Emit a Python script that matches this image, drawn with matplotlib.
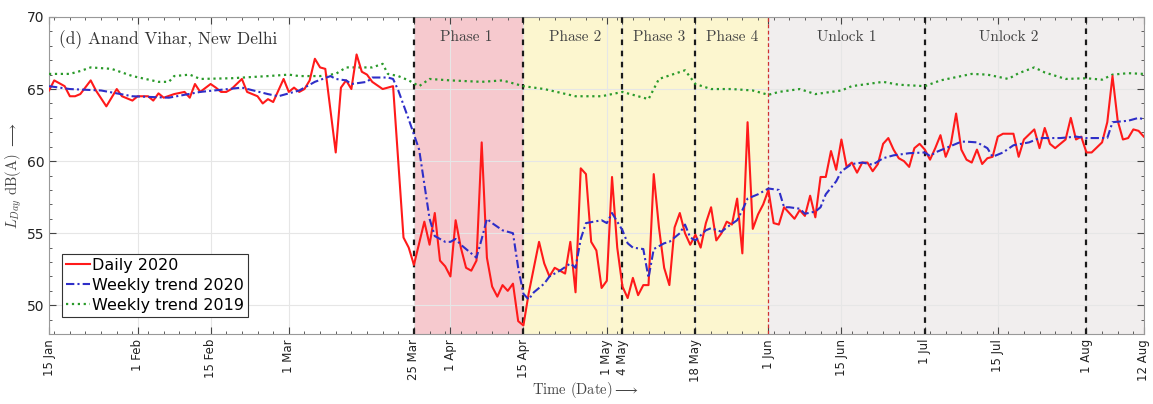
import numpy as np
import matplotlib
matplotlib.use("Agg")
import matplotlib.pyplot as plt
import matplotlib.dates as mdates
from matplotlib.ticker import MultipleLocator

plt.rcParams['mathtext.fontset'] = 'cm'
plt.rcParams['axes.unicode_minus'] = False

BASE = np.datetime64('2020-01-15')

# ---- Daily 2020 (day offset from 15 Jan, value dB(A)) ----
red_day = [0, 1, 3, 4, 5, 6, 8, 9, 11, 13, 14, 16, 17, 19, 20, 21, 22, 24, 26, 27,
           28, 29, 31, 32, 33, 34, 35, 37, 38, 40, 41, 42, 43, 45, 46, 47, 48, 49, 50, 51,
           52, 53, 55, 56, 57, 58, 59, 60, 61, 62, 64, 66, 68, 69, 70, 72, 73, 74, 75, 76,
           77, 78, 79, 80, 81, 82, 83, 84, 85, 86, 87, 88, 89, 90, 91, 92, 94, 95, 96, 97,
           99, 100, 101, 102, 103, 104, 105, 106, 107, 108, 109, 110, 111, 112, 113, 114, 115, 116, 117, 118,
           119, 120, 121, 122, 123, 124, 125, 126, 127, 128, 129, 130, 131, 132, 133, 134, 135, 136, 137, 138,
           139, 140, 141, 143, 144, 145, 146, 147, 148, 149, 150, 151, 152, 153, 154, 155, 156, 157, 158, 159,
           160, 161, 162, 163, 164, 165, 166, 167, 168, 169, 170, 171, 172, 173, 174, 175, 176, 177, 178, 179,
           180, 181, 182, 183, 185, 186, 187, 189, 190, 191, 192, 193, 194, 195, 196, 197, 198, 199, 200, 202,
           203, 204, 205, 206, 207, 208, 209, 210]
red_val = [64.9, 65.6, 65.2, 64.5, 64.5, 64.65, 65.6, 64.9, 63.8, 65.0, 64.5, 64.2, 64.5, 64.5, 64.2, 64.7, 64.4, 64.65, 64.8, 64.4,
           65.35, 64.8, 65.35, 65.1, 64.8, 64.8, 65.0, 65.7, 64.8, 64.5, 64.0, 64.3, 64.1, 65.7, 64.8, 65.1, 64.8, 65.0, 65.6, 67.1,
           66.5, 66.4, 60.6, 65.1, 65.6, 65.0, 67.4, 66.2, 66.0, 65.5, 65.0, 65.2, 54.7, 54.0, 52.8, 55.8, 54.2, 56.4, 53.1, 52.7,
           52.0, 55.9, 54.0, 52.6, 52.4, 53.1, 61.3, 53.3, 51.3, 50.6, 51.4, 51.0, 51.5, 48.9, 48.6, 50.8, 54.4, 52.9, 52.0, 52.6,
           52.2, 54.4, 50.9, 59.5, 59.1, 54.4, 53.8, 51.2, 51.7, 58.9, 54.0, 51.3, 50.5, 51.9, 50.7, 51.4, 51.4, 59.1, 55.4, 52.6,
           51.4, 55.4, 56.4, 55.0, 54.2, 54.9, 54.0, 55.7, 56.8, 54.5, 55.0, 55.8, 55.6, 57.4, 53.6, 62.7, 55.3, 56.3, 57.0, 58.0,
           55.7, 55.6, 56.8, 56.0, 56.6, 56.2, 57.6, 56.1, 58.9, 58.9, 60.7, 59.4, 61.5, 59.6, 59.9, 59.2, 59.9, 59.9, 59.3, 59.8,
           61.2, 61.6, 60.8, 60.2, 60.0, 59.6, 60.9, 61.2, 60.8, 60.1, 60.9, 61.8, 60.3, 61.2, 63.3, 60.8, 60.1, 59.9, 60.8, 59.8,
           60.2, 60.3, 61.7, 61.9, 61.9, 60.3, 61.5, 62.2, 60.9, 62.3, 61.2, 60.9, 61.2, 61.5, 63.0, 61.5, 61.7, 60.6, 60.6, 61.3,
           62.7, 65.9, 62.8, 61.5, 61.6, 62.2, 62.1, 61.7]

# ---- Weekly trend 2020 ----
blue_day = [0, 4, 10, 16, 23, 29, 37, 42, 44, 48, 51, 54, 55, 57, 58, 61, 62, 65, 66, 67,
            69, 71, 72, 73, 74, 76, 77, 78, 79, 81, 82, 83, 84, 85, 87, 89, 90, 91, 92, 93,
            95, 96, 98, 100, 101, 102, 103, 106, 107, 108, 110, 111, 112, 114, 115, 116, 118, 119, 121, 122,
            123, 124, 126, 127, 129, 130, 132, 133, 134, 136, 138, 140, 141, 142, 144, 145, 147, 148, 149, 151,
            152, 154, 156, 158, 160, 162, 165, 168, 169, 170, 172, 175, 176, 178, 180, 181, 183, 185, 188, 190,
            194, 197, 199, 203, 204, 207, 209, 210]
blue_val = [65.2, 65.0, 64.9, 64.5, 64.4, 64.8, 65.1, 64.65, 64.5, 64.9, 65.5, 65.9, 65.7, 65.6, 65.35, 65.5, 65.8, 65.8, 65.7, 64.9,
            62.9, 60.8, 58.4, 56.0, 54.8, 54.4, 54.4, 54.6, 54.2, 53.6, 53.3, 54.6, 56.0, 55.7, 55.2, 55.0, 52.6, 50.8, 50.4, 50.9,
            51.5, 52.0, 52.4, 52.9, 52.6, 54.6, 55.7, 55.9, 55.7, 56.4, 55.2, 54.3, 54.0, 53.9, 51.9, 53.9, 54.3, 54.4, 55.0, 55.6,
            54.7, 54.5, 55.2, 55.35, 55.1, 55.4, 55.9, 56.6, 57.4, 57.7, 58.1, 58.0, 56.8, 56.8, 56.7, 56.35, 56.5, 56.8, 57.7, 58.6,
            59.3, 59.8, 59.9, 59.75, 60.2, 60.4, 60.55, 60.6, 60.35, 60.6, 60.9, 61.35, 61.35, 61.3, 60.9, 60.3, 60.6, 61.1, 61.3, 61.6,
            61.6, 61.7, 61.6, 61.6, 62.7, 62.8, 63.0, 62.9]

# ---- Weekly trend 2019 ----
green_day = [0, 4, 6, 8, 12, 16, 21, 23, 24, 27, 29, 35, 42, 46, 48, 52, 55, 57, 60, 62,
             64, 65, 67, 69, 71, 73, 77, 83, 87, 91, 95, 101, 106, 110, 115, 117, 122, 124, 127, 131,
             135, 138, 140, 144, 147, 152, 154, 160, 163, 168, 171, 177, 180, 184, 186, 189, 191, 195, 199, 202,
             204, 207, 210]
green_val = [66.05, 66.05, 66.25, 66.5, 66.4, 65.9, 65.5, 65.5, 65.9, 66.0, 65.7, 65.75, 65.9, 66.0, 65.9, 65.9, 66.05, 66.5, 66.5, 66.5,
             66.75, 66.05, 65.9, 65.6, 65.2, 65.7, 65.6, 65.5, 65.6, 65.2, 65.0, 64.5, 64.5, 64.8, 64.3, 65.7, 66.3, 65.35, 65.0, 65.0,
             64.9, 64.6, 64.8, 65.0, 64.65, 64.9, 65.2, 65.5, 65.3, 65.2, 65.6, 66.05, 66.0, 65.7, 66.1, 66.5, 66.15, 65.7, 65.75, 65.65,
             66.0, 66.1, 66.05]

# ---- Periods & labels ----
period_bounds = ['2020-03-25', '2020-04-15', '2020-06-01', '2020-08-12']
period_colors = ['#F6C9CE', '#FCF6CF', '#F1EEEE']
phase_lines = ['2020-03-25', '2020-04-15', '2020-05-04', '2020-05-18', '2020-07-01', '2020-08-01']
phase_labels = ['Phase 1', 'Phase 2', 'Phase 3', 'Phase 4', 'Unlock 1', 'Unlock 2']
phase_label_dates = ['2020-04-04', '2020-04-25', '2020-05-11', '2020-05-25', '2020-06-16', '2020-07-17']

tick_dates = ['2020-01-15', '2020-02-01', '2020-02-15', '2020-03-01', '2020-03-25', '2020-04-01',
              '2020-04-15', '2020-05-01', '2020-05-04', '2020-05-18', '2020-06-01', '2020-06-15',
              '2020-07-01', '2020-07-15', '2020-08-01', '2020-08-12']
tick_labels = ['15 Jan', '1 Feb', '15 Feb', '1 Mar', '25 Mar', '1 Apr', '15 Apr', '1 May', '4 May',
               '18 May', '1 Jun', '15 Jun', '1 Jul', '15 Jul', '1 Aug', '12 Aug']


def to_dates(days):
    return BASE + np.array(days, dtype='timedelta64[D]')


fig = plt.figure(figsize=(11.53, 4.04), dpi=100)
ax = fig.add_axes([0.0425, 0.173, 0.9495, 0.785])

# shaded periods
for i, c in enumerate(period_colors):
    ax.axvspan(np.datetime64(period_bounds[i]), np.datetime64(period_bounds[i + 1]),
               color=c, zorder=0, lw=0)

ax.grid(True, color='#E6E6E6', lw=0.8, zorder=0.5)

for d in phase_lines:
    ax.axvline(np.datetime64(d), color='#1a1a1a', lw=1.6, ls=(0, (2.5, 2.5)), zorder=3)
ax.axvline(np.datetime64('2020-06-01'), color='#D03030', lw=0.9, ls=(0, (3, 2)), zorder=3)

ax.plot(to_dates(red_day), red_val, color='#FF1A1A', lw=1.5, zorder=5, label='Daily 2020')
ax.plot(to_dates(blue_day), blue_val, color='#2E2EC8', lw=1.5, ls=(0, (4, 1.5, 1, 1.5)), zorder=6,
        label='Weekly trend 2020')
ax.plot(to_dates(green_day), green_val, color='#2A9A2A', lw=1.6, ls=':', zorder=4,
        label='Weekly trend 2019')

ax.set_xlim(np.datetime64('2020-01-15'), np.datetime64('2020-08-12'))
ax.set_ylim(48, 70)
ax.set_yticks([50, 55, 60, 65, 70])
ax.yaxis.set_minor_locator(MultipleLocator(1))
ax.set_xticks([mdates.date2num(np.datetime64(d)) for d in tick_dates])
ax.set_xticklabels(tick_labels, rotation=90, fontsize=8.5)
ax.xaxis.set_minor_locator(mdates.DayLocator(interval=3))
ax.tick_params(axis='both', which='both', direction='in', top=True, right=True,
               colors='#444444', labelcolor='#222222')
ax.tick_params(axis='both', which='major', length=5)
ax.tick_params(axis='both', which='minor', length=2.5)
ax.tick_params(axis='y', labelsize=10)
for s in ax.spines.values():
    s.set_color('#999999')
    s.set_linewidth(0.8)

for lab, d in zip(phase_labels, phase_label_dates):
    ax.text(np.datetime64(d), 68.6, lab, ha='center', va='center', fontsize=11,
            family='cmr10', color='#444444', zorder=7)

ax.text(0.009, 0.93, '(d) Anand Vihar, New Delhi', transform=ax.transAxes, fontsize=12.5,
        family='cmr10', color='#333333', va='center', ha='left', zorder=7)

ax.set_ylabel(r'$L_{Day}$ dB(A) $\longrightarrow$', family='cmr10', fontsize=10.5,
              color='#444444', labelpad=2)
ax.set_xlabel(r'Time (Date)$\longrightarrow$', family='cmr10', fontsize=10.5,
              color='#444444')
ax.xaxis.set_label_coords(0.49, -0.145)

leg = ax.legend(loc='lower left', bbox_to_anchor=(0.012, 0.055), fontsize=11.5,
                handlelength=1.5, handletextpad=0.1, borderpad=0.25, labelspacing=0.3,
                fancybox=False, framealpha=1, edgecolor='#333333', borderaxespad=0)
leg.get_frame().set_linewidth(0.8)
leg.set_zorder(10)

fig.savefig('out.png', dpi=100)
